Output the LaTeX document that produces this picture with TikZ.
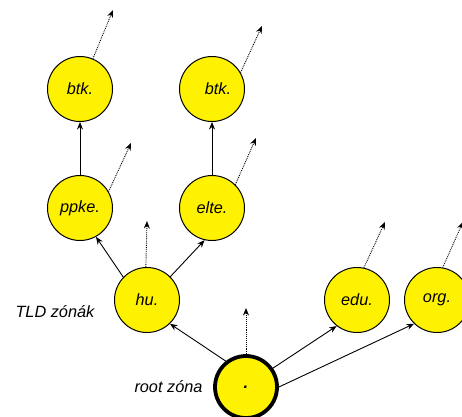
\documentclass[tikz,border=0pt]{standalone}
\usepackage{fontspec}
\setmainfont{Liberation Sans}
\usetikzlibrary{positioning,arrows.meta}

\tikzset{
  zone/.style={circle, draw=black, line width=1pt, fill=yellow,
    minimum size=65pt, inner sep=0pt, font=\fontsize{16.3}{19}\selectfont\itshape},
  rootzone/.style={zone, line width=3.8pt, minimum size=62pt},
  deleg/.style={-{Stealth[length=7.5pt,width=6pt]}, line width=0.9pt},
  lookup/.style={-{Stealth[length=7.5pt,width=6pt]}, densely dotted, line width=0.9pt},
  zonelabel/.style={font=\fontsize{16.3}{19}\selectfont\itshape}
}

\begin{document}
\begin{tikzpicture}[x=1pt,y=1pt]
    \useasboundingbox (0,0) rectangle (462,416);

    % Zones
    \node[rootzone] (root) at (246,29) {\textbf{.}};
    \node[zone] (hu)   at (147,116) {hu.};
    \node[zone] (edu)  at (357,116) {edu.};
    \node[zone] (org)  at (437,116) {org.};
    \node[zone] (ppke) at (80,208)  {ppke.};
    \node[zone] (elte) at (212,208) {elte.};
    \node[zone] (btka) at (80,327)  {btk.};
    \node[zone] (btkb) at (212,327) {\hspace{12pt}btk.};

    % Level labels
    \node[zonelabel, anchor=west] (tldlabel) at (12,104) {TLD zónák};
    \node[zonelabel, anchor=east] (rootlabel) at (206,29) {root zóna};

    % Delegations
    \draw[deleg] (root.128) -- (hu.314);
    \draw[deleg] (root.35) -- (edu.232);
    \draw[deleg] (root.east) -- (org.226);
    \draw[deleg] (hu.136) -- (ppke.299);
    \draw[deleg] (hu.45) -- (elte.257);
    \draw[deleg] (ppke.north) -- (btka.south);
    \draw[deleg] (elte.north) -- (btkb.south);

    % Outgoing references
    \coordinate (rootout) at (246,108);
    \coordinate (huout)   at (147,195);
    \coordinate (eduout)  at (385,194);
    \coordinate (orgout)  at (463,194);
    \coordinate (ppkeout) at (131,273);
    \coordinate (elteout) at (256,278);
    \coordinate (btkaout) at (113,406);
    \coordinate (btkbout) at (262,390);
    \draw[lookup] (root.north) -- (rootout);
    \draw[lookup] (hu.92) -- (huout);
    \draw[lookup] (edu.78) -- (eduout);
    \draw[lookup] (org.80) -- (orgout);
    \draw[lookup] (ppke.30) -- (ppkeout);
    \draw[lookup] (elte.45) -- (elteout);
    \draw[lookup] (btka.67) -- (btkaout);
    \draw[lookup] (btkb.30) -- (btkbout);
\end{tikzpicture}
\end{document}
